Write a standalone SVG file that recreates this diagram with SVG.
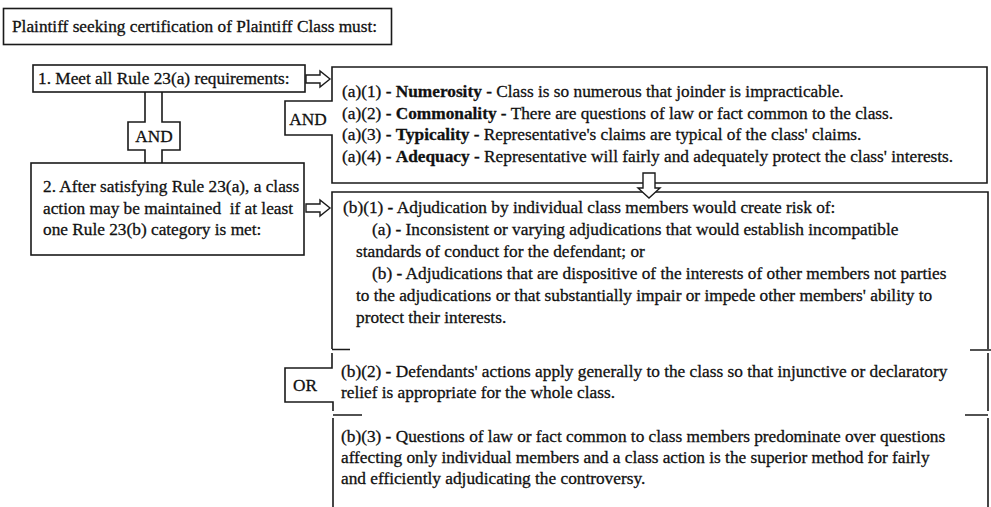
<svg xmlns="http://www.w3.org/2000/svg" width="991" height="507" viewBox="0 0 991 507">
<style>
  .bx{fill:#fff;stroke:#1a1a1a;stroke-width:1.6}
  .ln{fill:none;stroke:#1a1a1a;stroke-width:1.6}
  .t{font-family:"Liberation Serif","Times New Roman",serif;font-size:17.3px;fill:#111;stroke:#111;stroke-width:0.3}
  .b{font-weight:bold}
  .c{text-anchor:middle}
  .ar{fill:#fff;stroke:#1a1a1a;stroke-width:1.4;stroke-linejoin:miter}
</style>
<rect width="991" height="507" fill="#fff"/>

<g id="title">
  <rect class="bx" x="3.5" y="8.5" width="388" height="36"/>
  <text class="t" x="12" y="32">Plaintiff seeking certification of Plaintiff Class must:</text>
</g>

<g id="step1">
  <rect class="bx" x="33" y="65" width="272" height="27"/>
  <text class="t" x="38" y="84">1. Meet all Rule 23(a) requirements:</text>
</g>

<g id="step2">
  <rect class="bx" x="31" y="163" width="273" height="92"/>
  <text class="t" x="43" y="192">2. After satisfying Rule 23(a), a class</text>
  <text class="t" x="43" y="213.5" xml:space="preserve">action may be maintained  if at least</text>
  <text class="t" x="43" y="235">one Rule 23(b) category is met:</text>
</g>

<g id="rule23a">
  <path class="bx" d="M332,67 H987 V183 H332 V135 H285 V101 H332 Z"/>
  <text class="t c" x="308" y="124.5">AND</text>
  <text class="t" x="342" y="97">(a)(1) - <tspan class="b">Numerosity</tspan> - Class is so numerous that joinder is impracticable.</text>
  <text class="t" x="342" y="118.5">(a)(2) - <tspan class="b">Commonality</tspan> - There are questions of law or fact common to the class.</text>
  <text class="t" x="342" y="140">(a)(3) - <tspan class="b">Typicality</tspan> - Representative's claims are typical of the class' claims.</text>
  <text class="t" x="342" y="161.5">(a)(4) - <tspan class="b">Adequacy</tspan> - Representative will fairly and adequately protect the class' interests.</text>
</g>

<g id="rule23b">
  <path class="ln" d="M332,349 V192 H988 V349"/>
  <path class="ln" d="M332,349.5 H350 M970,350 H991"/>
  <path class="ln" d="M332,353 V368 H285 V402 H333 V411"/>
  <path class="ln" d="M988,353 V411"/>
  <path class="ln" d="M333,415 H362 M965,415 H988"/>
  <path class="ln" d="M333,418 V507 M988,418 V507"/>
  <text class="t c" x="305" y="391">OR</text>
  <text class="t" x="343" y="213">(b)(1) - Adjudication by individual class members would create risk of:</text>
  <text class="t" x="372" y="235">(a) - Inconsistent or varying adjudications that would establish incompatible</text>
  <text class="t" x="356" y="257">standards of conduct for the defendant; or</text>
  <text class="t" x="372" y="279">(b) - Adjudications that are dispositive of the interests of other members not parties</text>
  <text class="t" x="356" y="301">to the adjudications or that substantially impair or impede other members' ability to</text>
  <text class="t" x="356" y="323">protect their interests.</text>
  <text class="t" x="341" y="377">(b)(2) - Defendants' actions apply generally to the class so that injunctive or declaratory</text>
  <text class="t" x="341" y="398">relief is appropriate for the whole class.</text>
  <text class="t" x="341" y="442">(b)(3) - Questions of law or fact common to class members predominate over questions</text>
  <text class="t" x="341" y="463">affecting only individual members and a class action is the superior method for fairly</text>
  <text class="t" x="341" y="484">and efficiently adjudicating the controversy.</text>
</g>

<g id="connectors">
  <path class="ln" d="M145,92 V122 H128 V150 H145 V163 M162,92 V122 H180 V150 H162 V163"/>
  <text class="t c" x="154" y="141.5">AND</text>
  <path class="ar" d="M306,75 H320 V71 L330,79 L320,87 V83 H306 Z"/>
  <path class="ar" d="M306,204 H320 V200 L330,208 L320,216 V212 H306 Z"/>
  <path class="ar" d="M643,173 H655 V188 H660 L649,198 L638,188 H643 Z"/>
</g>
</svg>
